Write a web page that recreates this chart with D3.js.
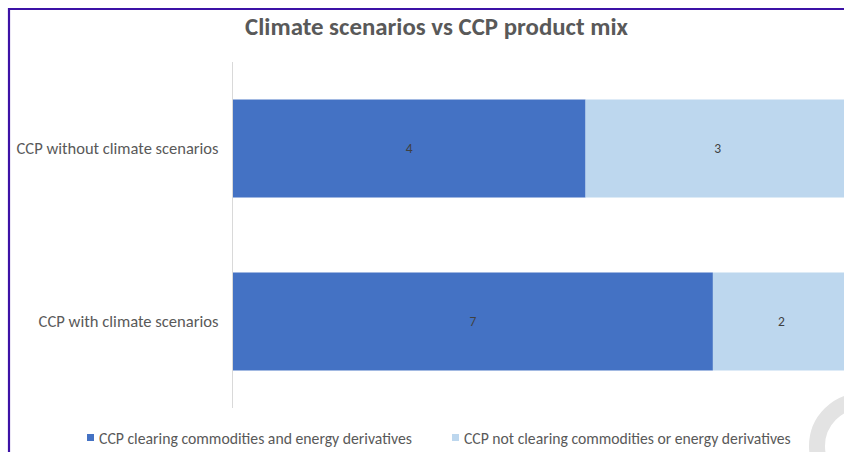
<!DOCTYPE html>
<html>
<head>
<meta charset="utf-8">
<script src="https://cdn.jsdelivr.net/npm/d3@7"></script>
<style>
  html, body { margin: 0; padding: 0; background: #fff; }
  svg { display: block; }
  text { font-family: Carlito, "Open Sans", "Liberation Sans", sans-serif; }
</style>
</head>
<body>
<script>
// ---- data ----
const title = "Climate scenarios vs CCP product mix";
const categories = ["CCP without climate scenarios", "CCP with climate scenarios"];
const seriesNames = ["CCP clearing commodities and energy derivatives", "CCP not clearing commodities or energy derivatives"];
const clearingValues = [4, 7];
const notClearingValues = [3, 2];
const colors = ["#4472C4", "#BDD7EE"];

const W = 844, H = 452;
const svg = d3.select("body").append("svg").attr("width", W).attr("height", H);
svg.append("rect").attr("width", W).attr("height", H).attr("fill", "#fff");

// watermark ring at bottom right
svg.append("circle").attr("cx", 862).attr("cy", 446).attr("r", 45)
  .attr("fill", "none").attr("stroke", "#e3e3e3").attr("stroke-width", 16);

// frame border
svg.append("path").attr("d", `M9,${H} V9 H${W}`).attr("fill", "none")
  .attr("stroke", "#3c12a6").attr("stroke-width", 2.2);

function fit(sel, target) {
  const node = sel.node();
  const fs = parseFloat(sel.attr("font-size"));
  const w = node.getComputedTextLength();
  if (w > 0) sel.attr("font-size", (fs * target / w).toFixed(2));
  return sel;
}

// title
fit(svg.append("text").attr("x", 436.5).attr("y", 35).attr("text-anchor", "middle")
  .attr("font-size", 20).attr("font-weight", "bold").attr("fill", "#595959").text(title), 383);

// stacked (100%) data
const table = categories.map((c, i) => ({ cat: c, a: clearingValues[i], b: notClearingValues[i] }));
const stack = d3.stack().keys(["a", "b"]).offset(d3.stackOffsetExpand);
const series = stack(table);

const x = d3.scaleLinear().domain([0, 1]).range([233, 850]);
const y = d3.scaleBand().domain(categories).range([62, 408]).paddingInner(0.4335).paddingOuter(0.2168);

const g = svg.append("g");
series.forEach((s, si) => {
  g.selectAll(null).data(s).join("rect")
    .attr("x", d => x(d[0])).attr("y", d => y(d.data.cat))
    .attr("width", d => x(d[1]) - x(d[0])).attr("height", y.bandwidth())
    .attr("fill", colors[si]);
  g.selectAll(null).data(s).join("text")
    .attr("x", d => (x(d[0]) + x(d[1])) / 2).attr("y", d => y(d.data.cat) + y.bandwidth() / 2)
    .attr("text-anchor", "middle").attr("dominant-baseline", "central")
    .attr("font-size", 13.5).attr("fill", "#404040")
    .text(d => d.data[s.key]);
});

// axis line (category axis)
const yAxis = svg.append("g").attr("transform", "translate(232.5,0)")
  .call(d3.axisLeft(y).tickSize(0).tickPadding(14));
yAxis.select(".domain").attr("stroke", "#d9d9d9").attr("d", "M0,62V408");
yAxis.selectAll("text").attr("font-size", 14).attr("fill", "#595959")
  .attr("font-family", 'Carlito, "Open Sans", "Liberation Sans", sans-serif');
yAxis.selectAll("text").each(function() { fit(d3.select(this), this.textContent === categories[0] ? 202 : 180); });

// legend
const legendX = [87, 452];
const legendW = [313, 327];
seriesNames.forEach((n, i) => {
  svg.append("rect").attr("x", legendX[i]).attr("y", 434).attr("width", 7).attr("height", 7).attr("fill", colors[i]);
  fit(svg.append("text").attr("x", legendX[i] + 12).attr("y", 438).attr("dominant-baseline", "central")
    .attr("font-size", 13).attr("fill", "#595959").text(n), legendW[i]);
});
</script>
</body>
</html>
